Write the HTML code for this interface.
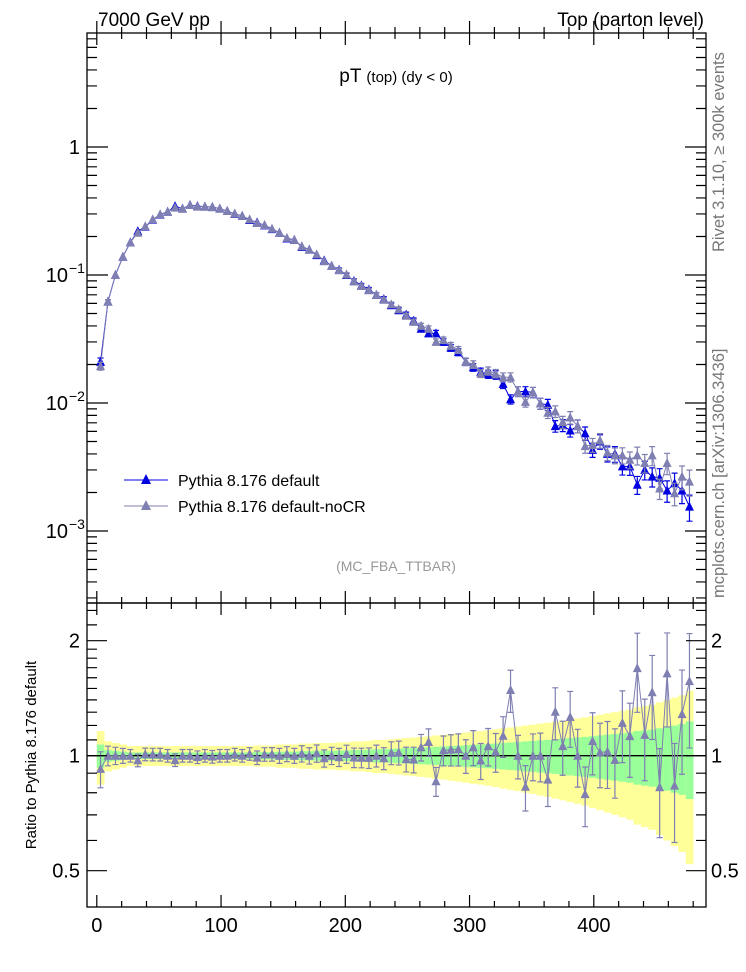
<!DOCTYPE html>
<html><head><meta charset="utf-8">
<style>
html,body{margin:0;padding:0;background:#fff;}
svg{display:block;font-family:"Liberation Sans",Arial,sans-serif;}
</style></head>
<body>
<svg id="chart" width="746" height="972" viewBox="0 0 746 972" xmlns="http://www.w3.org/2000/svg">
<text x="98" y="26" font-size="19">7000 GeV pp</text>
<text x="704" y="26" font-size="19" text-anchor="end">Top (parton level)</text>
<text x="396" y="82" font-size="19" text-anchor="middle">pT <tspan font-size="15">(top) (dy &lt; 0)</tspan></text>
<text x="396" y="571" font-size="14" fill="#999" text-anchor="middle">(MC_FBA_TTBAR)</text>
<text transform="translate(724,252) rotate(-90)" font-size="16.5" fill="#777" text-anchor="start">Rivet 3.1.10, ≥ 300k events</text>
<text transform="translate(724,598) rotate(-90)" font-size="16.5" fill="#777" text-anchor="start">mcplots.cern.ch [arXiv:1306.3436]</text>
<text transform="translate(36,755) rotate(-90)" font-size="15" text-anchor="middle">Ratio to Pythia 8.176 default</text>
<g id="bands"></g>
<g id="marks"></g>
<g id="axes"></g>
<g>
 <line x1="124" y1="480" x2="168" y2="480" stroke="#0000e0" stroke-width="1"/>
 <polygon points="146,474 141,484 151,484" fill="#0000e0"/>
 <text x="178" y="486" font-size="16">Pythia 8.176 default</text>
 <line x1="124" y1="506" x2="168" y2="506" stroke="#7f7fb2" stroke-width="1"/>
 <polygon points="146,500 141,510 151,510" fill="#7f7fb2"/>
 <text x="178" y="512" font-size="16">Pythia 8.176 default-noCR</text>
</g>
</svg>
<script>
const binCenters=[3,9,15,21,27,33,39,45,51,57,63,69,75,81,87,93,99,105,111,117,123,129,135,141,147,153,159,165,171,177,183,189,195,201,207,213,219,225,231,237,243,249,255,261,267,273,279,285,291,297,303,309,315,321,327,333,339,345,351,357,363,369,375,381,387,393,399,405,411,417,423,429,435,441,447,453,459,465,471,477];
const seriesDefault=[.021,.062,.100,.139,.180,.220,.238,.270,.296,.312,.345,.330,.352,.345,.342,.340,.330,.316,.300,.290,.269,.258,.244,.228,.214,.193,.188,.166,.158,.143,.130,.118,.110,.100,.090,.083,.077,.070,.065,.058,.053,.049,.044,.038,.035,.035,.030,.027,.025,.021,.019,.0175,.0168,.0166,.0141,.0107,.0123,.0123,.0121,.0099,.0097,.0066,.0067,.0061,.0066,.0058,.0043,.0050,.0040,.0040,.0032,.0032,.0023,.0030,.00266,.0026,.00207,.00236,.00207,.00155];
const seriesNoCR=[.0194,.062,.100,.139,.180,.214,.240,.272,.298,.312,.336,.330,.352,.342,.342,.338,.330,.316,.302,.290,.272,.255,.246,.230,.214,.195,.188,.168,.158,.145,.128,.118,.109,.101,.089,.082,.076,.070,.064,.059,.054,.048,.043,.040,.038,.030,.031,.028,.026,.021,.020,.017,.0178,.0170,.0159,.0159,.0123,.0102,.0121,.0099,.0084,.0086,.0071,.0077,.0066,.0046,.0047,.0051,.0041,.0039,.0039,.0036,.0039,.0034,.0039,.00215,.0034,.00197,.00266,.00243];
const relErr=[.07,.035,.03,.025,.02,.02,.02,.02,.02,.02,.02,.02,.02,.02,.02,.02,.02,.02,.02,.02,.02,.022,.022,.022,.025,.025,.025,.028,.028,.03,.03,.03,.032,.032,.035,.035,.037,.04,.04,.042,.044,.046,.048,.05,.052,.055,.057,.06,.062,.065,.068,.07,.073,.076,.08,.083,.086,.09,.093,.097,.1,.104,.108,.112,.116,.12,.125,.13,.135,.14,.145,.15,.16,.165,.17,.18,.19,.2,.21,.23];
const xTicks=[0,100,200,300,400];
const yTicksMain=[1,0.1,0.01,0.001];
const yTickLabelsMain=["1","10","10","10"];
const yTickExpMain=["","−1","−2","−3"];
const ratioTicks=[0.5,1,2];
const ratioTickLabels=["0.5","1","2"];

const NS="http://www.w3.org/2000/svg";
const L=87,R=706,T=33,MB=603,RB=907;
const BW=6;
function X(v){return 96.8+v*1.2425;}
function Y(v){return 147-Math.log10(v)*128;}
function RY(v){return 755.7-Math.log2(v)*115;}
function el(tag,attrs,parent){const e=document.createElementNS(NS,tag);for(const k in attrs)e.setAttribute(k,attrs[k]);parent.appendChild(e);return e;}
const bands=document.getElementById('bands'),marks=document.getElementById('marks'),axes=document.getElementById('axes');

for(let i=0;i<binCenters.length;i++){
  const x0=X(binCenters[i]-BW/2),x1=X(binCenters[i]+BW/2);
  const ey=relErr[i]*2+0.02;
  const y=el('rect',{x:x0,y:RY(1+ey),width:x1-x0+0.3,height:RY(Math.max(1-ey,0.3))-RY(1+ey),fill:'#ffff99'},bands);
  
  
  const e=relErr[i];
  const g=el('rect',{x:x0,y:RY(1+e),width:x1-x0+0.3,height:RY(1-e)-RY(1+e),fill:'#99ff99'},bands);
  
  
}
el('line',{x1:L,x2:R,y1:RY(1),y2:RY(1),stroke:'#000','stroke-width':1.3},bands);

function tri(x,y,c,parent){return el('polygon',{points:`${x},${y-5} ${x-4.5},${y+4} ${x+4.5},${y+4}`,fill:c},parent);}
function series(vals,color,name,errScale){
  const g=el('g',{},marks);
  
  
  let d='';
  for(let i=0;i<vals.length;i++){const x=X(binCenters[i]),y=Y(vals[i]);d+=(i?'L':'M')+x+','+y;}
  el('path',{d:d,fill:'none',stroke:color,'stroke-width':1},g);
  for(let i=0;i<vals.length;i++){
    const x=X(binCenters[i]),v=vals[i],e=relErr[i]*errScale;
    if(e>0.03){const y1=Y(v*(1+e)),y2=Y(v*(1-e));
      el('path',{d:`M${x},${y1}V${y2}M${x-3},${y1}H${x+3}M${x-3},${y2}H${x+3}`,stroke:color,'stroke-width':1.2,fill:'none'},g);}
    const t=tri(x,Y(v),color,g);
    
    
  }
}
series(seriesDefault,'#0000e0','series-default',1);
series(seriesNoCR,'#7f7fb2','series-nocr',1);

(function(){
  const g=el('g',{},marks);
  
  
  let d='';
  const r=seriesNoCR.map((v,i)=>v/seriesDefault[i]);
  r.forEach((v,i)=>{d+=(i?'L':'M')+X(binCenters[i])+','+RY(v);});
  el('path',{d:d,fill:'none',stroke:'#7f7fb2','stroke-width':1},g);
  r.forEach((v,i)=>{
    const x=X(binCenters[i]),e=relErr[i]*1.4+0.01;
    const y1=RY(v*(1+e)),y2=RY(v*(1-e));
    el('path',{d:`M${x},${y1}V${y2}M${x-3},${y1}H${x+3}M${x-3},${y2}H${x+3}`,stroke:'#7f7fb2','stroke-width':1.2,fill:'none'},g);
    const t=tri(x,RY(v),'#7f7fb2',g);
    
    
  });
})();

el('rect',{x:L,y:T,width:R-L,height:MB-T,fill:'none',stroke:'#000','stroke-width':1.3},axes);
el('rect',{x:L,y:MB,width:R-L,height:RB-MB,fill:'none',stroke:'#000','stroke-width':1.3},axes);
let tp='';
for(let v=0;v<=480;v+=20){
  const x=X(v),major=v%100===0,len=major?12:6;
  [T,MB,RB].forEach(y0=>{tp+=`M${x},${y0}V${y0-len}`;});
  [T,MB].forEach(y0=>{tp+=`M${x},${y0}V${y0+len}`;});
}
xTicks.forEach(v=>{const t=el('text',{x:X(v),y:RB+25,'font-size':20,'text-anchor':'middle'},axes);t.textContent=String(v);
  
  });
for(let dec=-4;dec<=0;dec++){
  for(let m=1;m<=9;m++){
    const v=m*Math.pow(10,dec),y=Y(v);
    if(y<T||y>MB)continue;
    const len=m===1?21:10;
    tp+=`M${L},${y}H${L+len}M${R},${y}H${R-len}`;
  }
}
yTicksMain.forEach((v,i)=>{
  const t=el('text',{x:yTickExpMain[i]?68:80,y:Y(v)+7,'font-size':20,'text-anchor':'end'},axes);
  t.textContent=yTickLabelsMain[i];
  
  
  if(yTickExpMain[i]){const s=el('text',{x:69,y:Y(v)-2,'font-size':14},axes);s.textContent=yTickExpMain[i];
    
    }
});
const rminor=[0.4,0.5,0.6,0.7,0.8,0.9,1,1.1,1.2,1.3,1.4,1.5,1.6,1.7,1.8,1.9,2,2.2,2.4];
rminor.forEach(v=>{const y=RY(v);if(y<MB||y>RB)return;const len=(v===0.5||v===1||v===2)?20:10;
  tp+=`M${L},${y}H${L+len}M${R},${y}H${R-len}`;});
el('path',{d:tp,stroke:'#000','stroke-width':1.2,fill:'none'},axes);
ratioTicks.forEach((v,i)=>{
  const a=el('text',{x:80,y:RY(v)+7,'font-size':20,'text-anchor':'end'},axes);a.textContent=ratioTickLabels[i];
  
  
  const b=el('text',{x:711,y:RY(v)+7,'font-size':20,'text-anchor':'start'},axes);b.textContent=ratioTickLabels[i];
  
  
});
</script>
</body></html>
